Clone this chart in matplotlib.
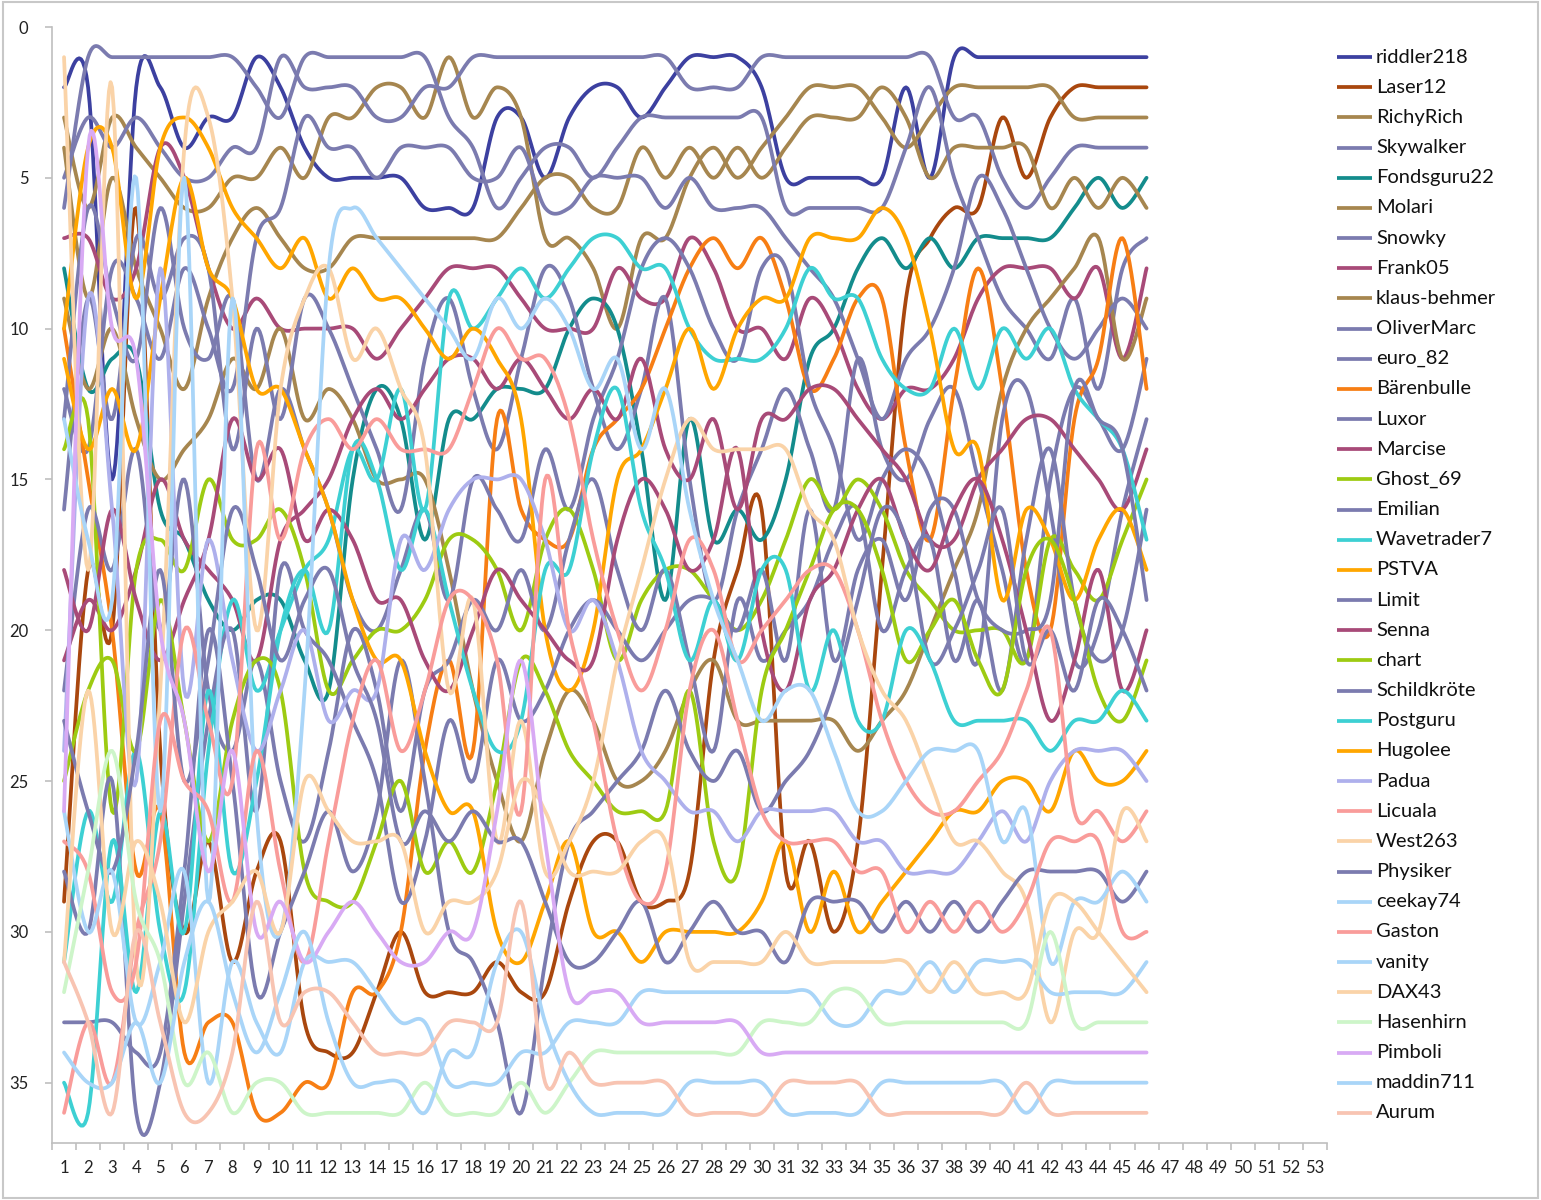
import numpy as np
import matplotlib
matplotlib.use("Agg")
import matplotlib.pyplot as plt
from matplotlib.lines import Line2D
from matplotlib.patches import Rectangle
from matplotlib.transforms import blended_transform_factory

plt.rcParams["font.family"] = ["Lato", "DejaVu Sans"]

# Rang je Runde (Runden 1..46)
riddler218 = [2,2,15,2,2,4,3,3,1,2, 4,5,5,5,5,6,6,6,3,3, 5,3,2,2,3,2,1,1,1,2, 5,5,5,5,5,2,5,1,1,1, 1,1,1,1,1,1]
laser12 = [29,18,20,6,24,30,27,31,28,27, 33,34,34,32,30,32,32,32,31,32, 32,29,27,27,29,29,28,21,18,16, 28,27,30,27,18,9,7,6,6,3, 5,3,2,2,2,2]
richyrich = [3,6,3,4,5,6,6,5,5,4, 5,3,3,2,2,3,1,3,2,3, 7,7,8,10,7,7,5,4,5,4, 3,2,2,2,3,4,3,2,2,2, 2,2,3,3,3,3]
skywalker = [5,3,4,3,4,5,5,4,4,1, 2,2,2,3,3,2,2,1,1,1, 1,1,1,1,1,1,2,2,2,1, 1,1,1,1,1,1,1,3,3,5, 6,5,4,4,4,4]
fondsguru22 = [8,12,11,11,16,17,19,20,19,19, 21,22,15,12,13,17,13,13,12,12, 12,10,9,10,14,19,13,17,16,17, 15,11,10,8,7,8,7,8,7,7, 7,7,6,5,6,5]
molari = [4,9,5,8,10,12,9,7,6,7, 8,8,7,7,7,7,7,7,7,6, 5,5,6,6,4,5,4,5,4,5, 4,3,3,3,2,3,5,4,4,4, 4,6,5,6,5,6]
snowky = [6,1,1,1,1,1,1,1,2,3, 1,1,1,1,1,1,3,4,6,5, 4,4,5,4,3,3,3,3,3,3, 6,6,6,6,6,4,2,5,7,9, 10,11,9,12,8,7]
frank05 = [7,7,9,8,4,5,8,10,9,10, 10,10,10,11,10,9,8,8,8,9, 10,10,10,8,9,9,7,8,10,10, 11,9,10,12,13,12,12,11,9,8, 8,8,9,8,11,8]
klaus_behmer = [9,12,10,13,15,14,13,11,12,10, 13,12,13,15,15,15,18,22,25,27, 24,22,23,25,25,24,22,21,23,23, 23,23,23,24,23,22,20,18,16,12, 10,9,8,7,11,9]
olivermarc = [12,14,8,9,11,8,10,12,7,6, 3,4,4,5,4,4,4,5,5,4, 6,6,5,5,5,6,5,6,6,6, 7,8,9,11,13,11,10,8,5,6, 8,10,11,10,9,10]
euro_82 = [16,9,13,7,9,7,8,14,10,13, 9,10,12,14,16,11,9,12,14,11, 8,9,12,14,12,9,15,19,16,14, 12,14,16,11,14,15,13,12,15,18, 21,15,12,13,14,11]
baerenbulle = [10,15,20,28,26,34,33,33,36,36, 35,35,32,32,30,24,21,24,13,16, 17,17,14,13,12,10,8,7,8,7, 9,12,11,9,9,14,17,12,8,12, 18,20,13,11,7,12]
luxor = [13,6,9,11,6,10,11,9,15,12, 14,16,19,20,18,16,19,15,16,17, 14,16,13,11,8,7,8,10,11,8, 8,12,14,17,15,14,15,18,21,13, 12,16,21,20,16,13]
marcise = [21,19,20,18,15,17,18,19,21,17, 16,15,13,12,13,12,11,11,12,11, 12,13,12,13,11,14,15,13,16,13, 13,12,12,13,14,15,17,17,15,14, 13,13,14,15,16,14]
ghost_69 = [14,13,26,18,17,18,15,17,17,16, 18,22,21,20,20,19,17,17,18,20, 17,16,18,21,19,18,18,19,20,19, 17,15,16,15,16,18,19,20,20,20, 21,17,18,19,17,15]
emilian = [22,16,18,14,20,15,22,24,21,25, 27,24,20,22,26,22,21,19,20,18, 20,17,15,18,20,18,21,24,19,21, 20,19,17,16,20,18,17,21,19,22, 17,14,19,21,20,16]
wavetrader7 = [31,26,29,24,30,32,24,19,22,20, 18,17,14,15,12,16,9,10,9,8, 9,8,7,7,8,8,10,11,11,11, 10,8,9,9,11,12,12,10,12,10, 11,10,12,13,14,17]
pstva = [10,4,4,9,4,3,4,6,7,8, 7,9,8,9,9,10,11,10,11,13, 20,22,20,15,14,12,10,12,10,9, 9,7,7,7,6,7,10,14,14,19, 16,17,19,17,16,18]
limit = [28,30,25,36,35,29,23,20,26,18, 20,21,23,25,29,27,23,25,21,23, 22,20,19,20,21,20,19,19,20,18, 21,16,21,18,17,19,16,16,19,20, 20,19,12,13,14,19]
senna = [18,20,16,19,21,19,17,13,15,14, 17,16,17,19,19,21,22,20,18,19, 20,21,21,17,15,16,18,17,14,20, 22,19,18,16,15,17,18,16,15,17, 20,23,21,18,22,20]
chart = [25,22,21,24,19,23,27,23,21,22, 28,29,29,27,25,28,27,28,25,21, 22,24,25,26,26,26,22,27,28,22, 20,18,16,16,18,21,20,19,21,22, 18,17,19,22,23,21]
schildkroete = [33,33,33,34,34,28,20,25,32,30, 28,26,28,26,21,25,30,31,33,36, 31,27,26,25,24,22,24,25,24,26, 25,24,22,19,16,17,21,20,18,16, 21,20,22,19,20,22]
postguru = [35,36,27,32,26,30,22,28,25,20, 18,20,14,15,18,16,19,22,24,23, 18,18,14,12,16,18,21,19,21,18, 18,22,20,23,23,20,21,23,23,23, 23,24,23,23,22,23]
hugolee = [11,14,12,14,9,5,8,9,12,12, 14,16,19,21,21,24,26,26,30,31, 29,27,30,30,31,30,30,30,30,29, 27,30,28,30,29,28,27,26,26,25, 25,26,24,25,25,24]
padua = [24,9,16,25,8,22,17,21,24,22, 20,23,22,22,17,18,16,15,15,15, 17,20,19,21,24,25,26,26,27,26, 26,26,26,27,27,28,28,28,27,26, 27,25,24,24,24,25]
licuala = [36,33,35,30,27,20,23,25,14,17, 14,13,14,13,14,14,14,12,10,11, 11,13,17,20,22,20,17,18,21,20, 19,18,18,20,23,25,26,26,25,24, 22,20,26,26,27,26]
west263 = [1,18,2,31,22,4,3,9,20,12, 9,8,11,10,12,14,22,19,27,23, 28,27,25,21,18,15,13,14,14,14, 14,16,17,20,22,23,25,27,27,28, 29,33,30,30,26,27]
physiker = [23,26,28,24,18,25,21,16,18,21, 19,18,21,23,27,26,27,26,27,27, 29,31,31,30,29,31,30,29,30,30, 31,29,29,29,30,29,30,29,30,29, 28,28,28,28,29,28]
ceekay74 = [13,17,19,5,26,5,29,9,26,30, 22,8,6,7,8,9,10,11,9,10, 9,10,12,11,14,12,16,19,21,23, 22,22,24,26,26,25,24,24,24,27, 26,31,29,29,28,29]
gaston = [27,28,32,31,23,25,26,29,24,28, 31,27,23,21,24,22,19,19,21,26, 15,20,23,27,29,28,22,20,23,26, 27,27,27,28,28,30,29,30,29,30, 29,27,27,27,30,30]
vanity = [26,30,28,33,31,28,35,31,33,34, 31,31,31,32,33,33,35,35,35,34, 34,33,33,33,32,32,32,32,32,32, 32,32,33,33,32,32,31,32,31,31, 31,32,32,32,32,31]
dax43 = [31,22,30,27,29,33,30,29,28,30, 25,26,27,27,27,30,29,29,28,25, 26,28,28,28,27,27,31,31,31,31, 30,31,31,31,31,31,32,31,32,32, 32,29,29,30,31,32]
hasenhirn = [32,28,24,29,31,35,34,36,35,35, 36,36,36,36,36,35,36,36,36,35, 36,35,34,34,34,34,34,34,34,33, 33,33,32,32,33,33,33,33,33,33, 33,30,33,33,33,33]
pimboli = [26,4,10,11,20,23,28,24,30,29, 31,30,29,30,31,31,30,30,26,21, 27,32,32,32,33,33,33,33,33,34, 34,34,34,34,34,34,34,34,34,34, 34,34,34,34,34,34]
maddin711 = [34,35,35,33,35,31,29,32,34,32, 30,33,35,35,35,36,34,34,31,30, 33,35,36,36,36,36,35,35,35,35, 36,36,36,36,35,35,35,35,35,35, 36,35,35,35,35,35]
aurum = [31,33,36,30,33,36,36,34,29,33, 32,32,33,34,34,34,33,33,33,29, 35,34,35,35,35,35,36,36,36,36, 35,35,35,35,36,36,36,36,36,36, 35,36,36,36,36,36]

names = ["riddler218", "Laser12", "RichyRich", "Skywalker", "Fondsguru22", "Molari",
         "Snowky", "Frank05", "klaus-behmer", "OliverMarc", "euro_82", "Bärenbulle",
         "Luxor", "Marcise", "Ghost_69", "Emilian", "Wavetrader7", "PSTVA", "Limit",
         "Senna", "chart", "Schildkröte", "Postguru", "Hugolee", "Padua", "Licuala",
         "West263", "Physiker", "ceekay74", "Gaston", "vanity", "DAX43", "Hasenhirn",
         "Pimboli", "maddin711", "Aurum"]
series = [riddler218, laser12, richyrich, skywalker, fondsguru22, molari, snowky,
          frank05, klaus_behmer, olivermarc, euro_82, baerenbulle, luxor, marcise,
          ghost_69, emilian, wavetrader7, pstva, limit, senna, chart, schildkroete,
          postguru, hugolee, padua, licuala, west263, physiker, ceekay74, gaston,
          vanity, dax43, hasenhirn, pimboli, maddin711, aurum]
category_labels = [str(k) for k in range(1, 54)]

# Farben wie im Excel-Diagramm
gray = "#7B7BAF"
tan = "#A6864F"
colors = ["#3C40A0", "#A9470E", tan, gray, "#138C8C", tan, gray, "#A84A78", tan,
          gray, gray, "#F77E14", gray, "#A84A78", "#9DCB12", gray, "#3DD0D3", "#FFA600",
          gray, "#A84A78", "#9DCB12", gray, "#3DD0D3", "#FFA600", "#AEB0EC", "#F99C9A",
          "#FAD3A8", gray, "#A9D5F8", "#F99C9A", "#A9D5F8", "#FAD3A8", "#CDF5C9",
          "#D8AAF4", "#A9D5F8", "#F8C4B2"]


def smooth(vals, n=16):
    # geglättete Linie wie Excel (Bezier mit Faktor 1/6)
    x = np.arange(1, len(vals) + 1, dtype=float)
    p = np.column_stack([x, np.asarray(vals, dtype=float)])
    pts = np.vstack([p[0], p, p[-1]])
    t = np.linspace(0, 1, n)[:, None]
    segs = []
    for k in range(len(p) - 1):
        p0, p1, p2, p3 = pts[k], pts[k + 1], pts[k + 2], pts[k + 3]
        b1 = p1 + (p2 - p0) / 6
        b2 = p2 - (p3 - p1) / 6
        seg = (1 - t) ** 3 * p1 + 3 * (1 - t) ** 2 * t * b1 + 3 * (1 - t) * t ** 2 * b2 + t ** 3 * p2
        segs.append(seg if k == len(p) - 2 else seg[:-1])
    c = np.vstack(segs)
    return c[:, 0], c[:, 1]


fig = plt.figure(figsize=(15.41, 12.0), dpi=100)
ax = fig.add_axes([52 / 1541, 1 - 1143 / 1200, (1327 - 52) / 1541, (1143 - 27) / 1200])

lw = 2.7
for name, vals, col in zip(names, series, colors):
    xs, ys = smooth(vals)
    ax.plot(xs, ys, color=col, lw=lw, solid_capstyle="round", solid_joinstyle="round")

ax.set_xlim(0.5, 53.5)
ax.set_ylim(37, 0)
ax.set_yticks(np.arange(0, 36, 5))
ax.set_xticks(np.arange(1, 54))
ax.set_xticklabels(category_labels)
ax.set_xticks(np.arange(0.5, 54, 1), minor=True)

axis_col = "#BFBFBF"
for s in ["top", "right"]:
    ax.spines[s].set_visible(False)
for s in ["left", "bottom"]:
    ax.spines[s].set_color(axis_col)
    ax.spines[s].set_linewidth(1.2)
ax.tick_params(axis="x", which="major", length=0, pad=12, labelsize=12, labelcolor="#222222")
ax.tick_params(axis="x", which="minor", length=5, color=axis_col, width=1.2)
ax.tick_params(axis="y", which="major", length=5, color=axis_col, width=1.2, pad=12,
               labelsize=12, labelcolor="#222222")

# Legende rechts, Zeilen auf Höhe der Endränge
tr = blended_transform_factory(fig.transFigure, ax.transData)
for k, (name, col) in enumerate(zip(names, colors)):
    yk = k + 1
    fig.add_artist(Line2D([1337 / 1541, 1372 / 1541], [yk, yk], transform=tr,
                          color=col, lw=lw, solid_capstyle="butt"))
    fig.text(1376 / 1541, yk, name, transform=tr, va="center", ha="left",
             fontsize=14.5, color="#111111")

# heller Rahmen um die Grafik
fig.add_artist(Rectangle((0.002, 0.002), 0.996, 0.996, transform=fig.transFigure,
                         fill=False, edgecolor="#C8C8C8", lw=1.5))

fig.savefig("out.png", dpi=100)
